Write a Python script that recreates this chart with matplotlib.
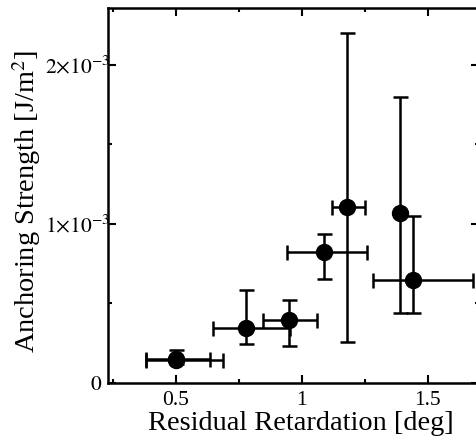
import numpy as np
import matplotlib
matplotlib.use("Agg")
import matplotlib.pyplot as plt
from matplotlib.ticker import MultipleLocator, FixedLocator

# Dados (y em unidades de 1e-3 J/m^2)
ret = [0.50, 0.50, 0.78, 0.95, 1.087, 1.177, 1.389, 1.439]
ret_lo = [0.38, 0.38, 0.648, 0.846, 0.939, 1.12, 1.389, 1.283]
ret_hi = [0.635, 0.685, 0.952, 1.058, 1.259, 1.25, 1.389, 1.68]
anc = [0.150, 0.143, 0.344, 0.396, 0.826, 1.109, 1.067, 0.648]
anc_lo = [0.12, 0.143, 0.243, 0.235, 0.654, 0.26, 0.442, 0.442]
anc_hi = [0.21, 0.143, 0.585, 0.522, 0.937, 2.20, 1.80, 1.05]

plt.rcParams['font.family'] = ['Liberation Serif', 'DejaVu Serif']
plt.rcParams['mathtext.fontset'] = 'stix'

x = np.array(ret)
y = np.array(anc) * 1e-3
xerr = [x - np.array(ret_lo), np.array(ret_hi) - x]
yerr = [y - np.array(anc_lo) * 1e-3, np.array(anc_hi) * 1e-3 - y]

fig = plt.figure(figsize=(4.77, 4.38), dpi=100)
ax = fig.add_axes([0.226, 0.1256, 0.778, 0.856])

ax.errorbar(x, y, xerr=xerr, yerr=yerr, fmt='o', color='black',
            markersize=11.5, elinewidth=1.8, capsize=5.4, capthick=1.8)

ax.set_xlim(0.23, 1.702)
ax.set_ylim(0, 2.358e-3)

ax.xaxis.set_major_locator(FixedLocator([0.5, 1.0, 1.5]))
ax.xaxis.set_minor_locator(FixedLocator([0.25, 0.75, 1.25]))
ax.set_xticklabels(['0.5', '1', '1.5'])
ax.yaxis.set_major_locator(FixedLocator([0, 1e-3, 2e-3]))
ax.yaxis.set_minor_locator(MultipleLocator(0.5e-3))
# o "0" fica mais longe do eixo, entao vai como texto separado
ax.set_yticklabels(['', r'$1{\times}10^{-3}$', r'$2{\times}10^{-3}$'])
ax.text(-0.016, 0, '$0$', transform=ax.get_yaxis_transform(),
        ha='right', va='center_baseline', fontsize=15.5)

ax.tick_params(which='both', direction='in', top=True, right=True,
               width=1.5, labelsize=15.5)
ax.tick_params(axis='x', pad=6)
ax.tick_params(axis='y', pad=-2)
ax.tick_params(which='major', length=6)
ax.tick_params(which='minor', length=3)
for s in ax.spines.values():
    s.set_linewidth(1.8)

ax.set_xlabel('Residual Retardation [deg]', fontsize=20.4)
ax.xaxis.set_label_coords(0.519, -0.075)
ax.set_ylabel(r'Anchoring Strength [J/m$^2$]', fontsize=20.4)
ax.yaxis.set_label_coords(-0.175, 0.484)

fig.savefig('out.png', dpi=100)
